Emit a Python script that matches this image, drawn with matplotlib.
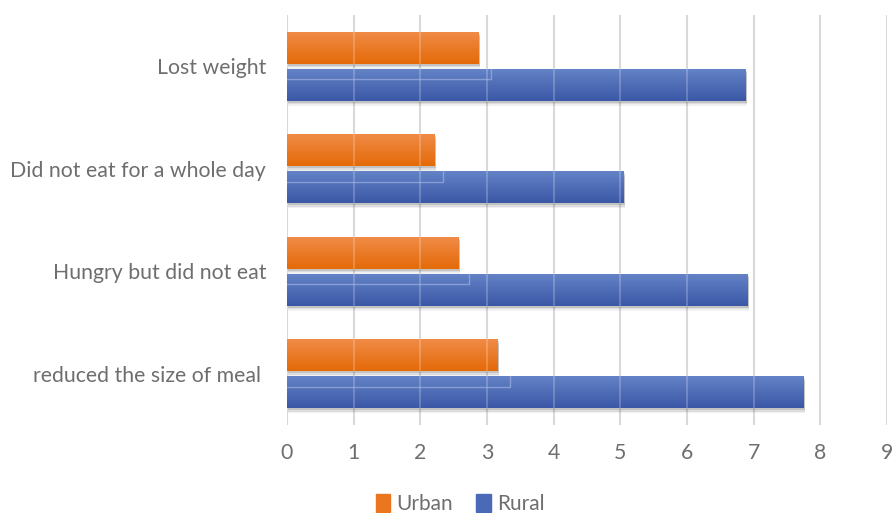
import matplotlib
matplotlib.use("Agg")
import matplotlib.pyplot as plt
import numpy as np
from matplotlib.colors import LinearSegmentedColormap

# categories listed top to bottom as in the chart
categories = ["Lost weight", "Did not eat for a whole day",
              "Hungry but did not eat", "reduced the size of meal "]
urban = [2.88, 2.21, 2.58, 3.16]
rural = [6.88, 5.05, 6.91, 7.75]
series_names = ["Urban", "Rural"]
xticks = [0, 1, 2, 3, 4, 5, 6, 7, 8, 9]

plt.rcParams['font.family'] = ['Lato', 'DejaVu Sans']

orange_cmap = LinearSegmentedColormap.from_list("o", ["#E46A08", "#F08B47"])
blue_cmap = LinearSegmentedColormap.from_list("b", ["#3A58A6", "#6482C6"])
grad = np.linspace(0, 1, 64).reshape(-1, 1)

fig = plt.figure(figsize=(8.93, 5.13), dpi=100)
ax = fig.add_axes([287 / 893, 88 / 513, 600 / 893, 410 / 513])

n = len(categories)
ypos = np.arange(n)[::-1]
h = 0.31
off = 0.18

for i in range(n):
    for val, dy, cmap in ((urban[i], off, orange_cmap), (rural[i], -off, blue_cmap)):
        y0 = ypos[i] + dy - h / 2
        # soft shadow
        for k, a in ((0.05, 0.08), (0.035, 0.12), (0.02, 0.18)):
            ax.add_patch(plt.Rectangle((0.02, y0 - k), val, h, color="#505050",
                                       alpha=a, lw=0, zorder=2))
        ax.imshow(grad, cmap=cmap, origin="lower", aspect="auto",
                  extent=(0, val, y0, y0 + h), zorder=3, interpolation="bilinear")
        # light gridline seen through the bar
        for t in xticks[1:]:
            if t < val:
                ax.plot([t, t], [y0, y0 + h], color="white", alpha=0.25, lw=1.2, zorder=4)
    # faint reflection of the urban bar on the rural bar
    yr = ypos[i] - off + h / 2
    ax.plot([0, urban[i] * 1.06, urban[i] * 1.06], [yr - 0.1, yr - 0.1, yr],
            color="#A9BBE6", alpha=0.6, lw=1, zorder=4)

ax.set_xlim(0, 9)
ax.set_ylim(-0.5, 3.5)
ax.set_xticks(xticks)
ax.set_yticks(ypos)
ax.set_yticklabels(categories)
ax.grid(axis="x", color="#D9D9D9", lw=1.5, zorder=0)
ax.set_axisbelow(True)
for s in ax.spines.values():
    s.set_visible(False)
ax.tick_params(axis="both", length=0, colors="#6E6E6E", labelsize=15.3)
ax.tick_params(axis="x", pad=13)
ax.tick_params(axis="y", pad=15)

handles = [plt.Rectangle((0, 0), 1, 1, color="#EA7620"),
           plt.Rectangle((0, 0), 1, 1, color="#4A6AB8")]
leg = fig.legend(handles, series_names, loc="center", bbox_to_anchor=(460 / 893, 1 - 504 / 513),
                 ncol=2, frameon=False, fontsize=15, handlelength=0.7, handleheight=1.0,
                 handletextpad=0.3, columnspacing=1.1, labelcolor="#6E6E6E")

fig.savefig("out.png", dpi=100)
